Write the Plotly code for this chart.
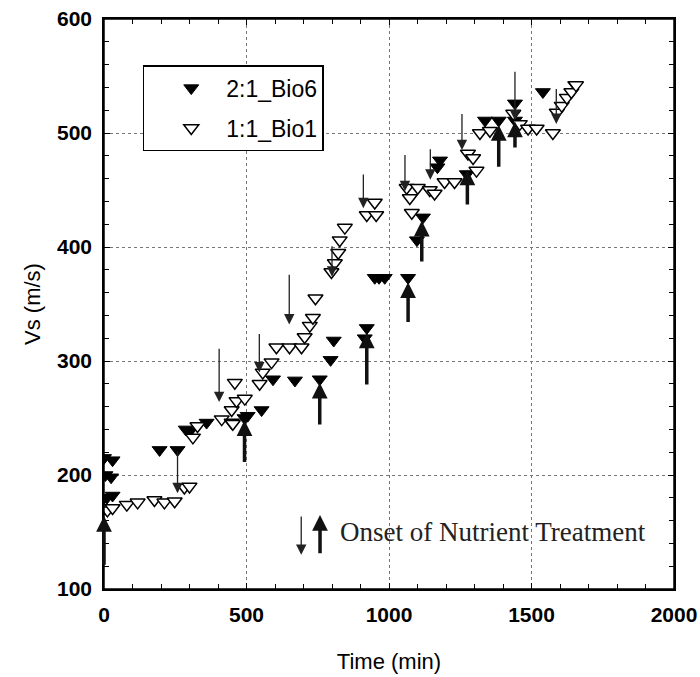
import plotly.graph_objects as go

# 2:1_Bio6 (filled)
bio6_time = [0, 30, 5, 25, 0, 10, 30, 195, 258, 287, 300, 360, 493, 504, 553, 593, 670,
             757, 795, 806, 915, 922, 950, 965, 985, 1067, 1098, 1119, 1170, 1179, 1273,
             1337, 1385, 1442, 1442, 1540, 1653]
bio6_vs = [215, 213, 200, 198, 180, 180, 182, 222, 222, 240, 238, 246, 250, 252, 257, 284, 283,
           284, 301, 318, 320, 329, 373, 373, 373, 373, 406, 426, 470, 476, 464,
           511, 511, 511, 526, 536, 542]

# 1:1_Bio1 (open)
bio1_time = [0, 12, 30, 80, 118, 177, 212, 248, 282, 300, 312, 328, 413, 448, 452, 448, 459,
             465, 494, 546, 557, 588, 605, 651, 693, 704, 722, 733, 742, 798, 810, 822, 827,
             845, 922, 950, 955, 1062, 1073, 1080, 1101, 1143, 1160, 1195, 1230, 1277, 1295,
             1307, 1319, 1354, 1436, 1459, 1488, 1518, 1575, 1589, 1606, 1624, 1640, 1656]
bio1_vs = [171, 169, 171, 174, 176, 178, 176, 177, 189, 190, 233, 243, 249, 246, 245, 257, 281,
           265, 267, 280, 290, 299, 312, 312, 312, 321, 331, 338, 355, 378, 386, 395, 406,
           417, 428, 439, 428, 452, 443, 430, 452, 450, 447, 457, 457, 482, 478,
           467, 500, 502, 517, 508, 504, 504, 500, 518, 524, 531, 536, 542]

# Onset of nutrient treatment, 1:1_Bio1 (thin down arrows): time, from, to
down_time = [258, 404, 545, 650, 800, 910, 1056, 1145, 1256, 1442, 1587]
down_from = [222, 312, 325, 377, 402, 465, 482, 487, 518, 555, 540]
down_to = [184, 264, 290, 332, 374, 434, 449, 459, 485, 511, 508]

# Onset of nutrient treatment, 2:1_Bio6 (thick up arrows): time, from, to
up_time = [0, 493, 757, 922, 1067, 1115, 1275, 1385, 1442]
up_from = [120, 210, 243, 278, 333, 386, 436, 469, 486]
up_to = [164, 248, 281, 325, 369, 423, 468, 507, 510]

fig = go.Figure()
fig.add_trace(go.Scatter(
    x=bio6_time, y=bio6_vs, mode="markers", name="2:1_Bio6", legendgroup="a",
    marker=dict(symbol="triangle-down", size=13, color="black",
                line=dict(color="black", width=1))))
fig.add_trace(go.Scatter(
    x=bio1_time, y=bio1_vs, mode="markers", name="1:1_Bio1", legendgroup="b",
    marker=dict(symbol="triangle-down", size=13, color="white",
                line=dict(color="black", width=1.5))))

anns = []
for t, a, b in zip(down_time, down_from, down_to):
    anns.append(dict(x=t, y=b, ax=t, ay=a, xref="x", yref="y", axref="x", ayref="y",
                     text="", showarrow=True, arrowhead=2, arrowsize=1.6,
                     arrowwidth=1.3, arrowcolor="#222", standoff=0))
for t, a, b in zip(up_time, up_from, up_to):
    anns.append(dict(x=t, y=b, ax=t, ay=a, xref="x", yref="y", axref="x", ayref="y",
                     text="", showarrow=True, arrowhead=2, arrowsize=0.9,
                     arrowwidth=3.5, arrowcolor="#111", standoff=0))

# key for the arrows
anns.append(dict(x=692, y=130, ax=692, ay=165, xref="x", yref="y", axref="x", ayref="y",
                 text="", showarrow=True, arrowhead=2, arrowsize=1.6,
                 arrowwidth=1.3, arrowcolor="#222", standoff=0))
anns.append(dict(x=758, y=165, ax=758, ay=130, xref="x", yref="y", axref="x", ayref="y",
                 text="", showarrow=True, arrowhead=2, arrowsize=0.9,
                 arrowwidth=3.5, arrowcolor="#111", standoff=0))
anns.append(dict(x=822, y=150, xref="x", yref="y", xanchor="left", yanchor="middle",
                 text="Onset of Nutrient Treatment", showarrow=False,
                 font=dict(family="Liberation Serif, Times New Roman, serif", size=27,
                           color="#222")))

tickfont = dict(family="Liberation Sans, Arial, sans-serif", size=21, color="black",
                weight="bold")
titlefont = dict(family="Liberation Sans, Arial, sans-serif", size=22, color="black")

fig.update_layout(
    width=700, height=677,
    margin=dict(l=104, r=26, t=19, b=88, autoexpand=False),
    paper_bgcolor="white", plot_bgcolor="white",
    annotations=anns,
    shapes=[dict(type="rect", xref="paper", yref="paper", x0=0, x1=1, y0=0, y1=1,
                 line=dict(color="black", width=1.5), layer="above")],
    showlegend=True,
    legend=dict(x=0.068, y=0.919, xanchor="left", yanchor="top",
                bordercolor="black", borderwidth=1.5, bgcolor="white",
                font=dict(family="Liberation Sans, Arial, sans-serif", size=23,
                          color="black"),
                tracegroupgap=7, indentation=12, itemwidth=60),
)
fig.update_xaxes(
    range=[0, 2000], dtick=500, tick0=0, showgrid=True, gridcolor="#777",
    griddash="dot", gridwidth=1, showline=True, linecolor="black", linewidth=1.5,
    mirror="ticks", ticks="inside", ticklen=6, tickcolor="black", zeroline=False,
    tickfont=tickfont, ticklabelstandoff=6, automargin=False, ticklabeloverflow="allow",
    title=dict(text="Time (min)", font=titlefont, standoff=29),
    minor=dict(dtick=100, ticks="inside", ticklen=5, tickcolor="black", showgrid=False),
)
fig.update_yaxes(
    range=[100, 600], dtick=100, tick0=0, showgrid=True, gridcolor="#777",
    griddash="dot", gridwidth=1, showline=True, linecolor="black", linewidth=1.5,
    mirror="ticks", ticks="inside", ticklen=6, tickcolor="black", zeroline=False,
    tickfont=tickfont, ticklabelstandoff=6, automargin=False, ticklabeloverflow="allow",
    title=dict(text="Vs (m/s)", font=titlefont, standoff=10),
    minor=dict(dtick=20, ticks="inside", ticklen=5, tickcolor="black", showgrid=False),
)

fig.write_html("out.html", config={"displayModeBar": False},
               post_script="document.body.style.margin='0';document.body.style.overflow='hidden';")
